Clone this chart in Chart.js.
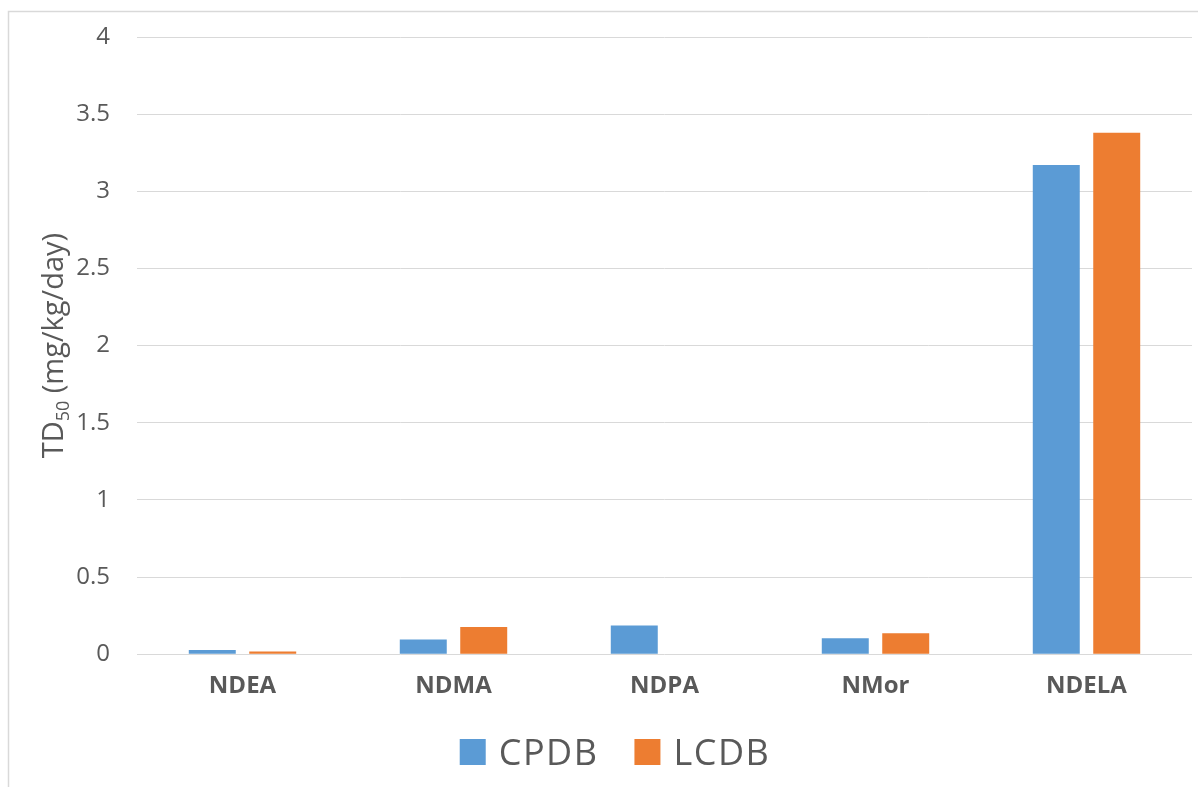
<!DOCTYPE html>
<html>
<head>
<meta charset="utf-8">
<style>
  html, body { margin: 0; padding: 0; background: #fff; }
  #wrap { position: relative; width: 1198px; height: 787px; }
</style>
<script src="https://cdn.jsdelivr.net/npm/chart.js@4.4.1/dist/chart.umd.min.js"></script>
</head>
<body>
<div id="wrap"><canvas id="c" width="1198" height="787"></canvas></div>
<script>
// Nitrosamine TD50 values (mg/kg/day) from two carcinogen databases
const categories = ['NDEA', 'NDMA', 'NDPA', 'NMor', 'NDELA'];
const cpdbValues = [0.0265, 0.0959, 0.186, 0.104, 3.17];
const lcdbValues = [0.0177, 0.177, null, 0.136, 3.38];
const seriesNames = ['CPDB', 'LCDB'];
const yTicks = [0, 0.5, 1, 1.5, 2, 2.5, 3, 3.5, 4];
const yTickLabels = ['0', '0.5', '1', '1.5', '2', '2.5', '3', '3.5', '4'];

const FONT = "'Open Sans', 'DejaVu Sans', sans-serif";
const TEXT = '#595959';

// Light frame around the chart area
const framePlugin = {
  id: 'frame',
  beforeDraw(chart) {
    const ctx = chart.ctx;
    ctx.save();
    ctx.strokeStyle = '#d9d9d9';
    ctx.lineWidth = 1.5;
    ctx.beginPath();
    ctx.moveTo(8.5, chart.height + 5);
    ctx.lineTo(8.5, 11.5);
    ctx.lineTo(chart.width + 5, 11.5);
    ctx.stroke();
    ctx.restore();
  }
};

// Rotated y-axis title with a subscript "50"
const yTitlePlugin = {
  id: 'yTitle',
  afterDraw(chart) {
    const ctx = chart.ctx;
    const area = chart.chartArea;
    const cy = (area.top + area.bottom) / 2;
    const main = '29px ' + FONT;
    const sub = '18px ' + FONT;
    ctx.save();
    ctx.fillStyle = TEXT;
    ctx.textBaseline = 'alphabetic';
    ctx.textAlign = 'left';
    ctx.font = main;
    const w1 = ctx.measureText('TD').width;
    const w3 = ctx.measureText(' (mg/kg/day)').width;
    ctx.font = sub;
    const w2 = ctx.measureText('50').width;
    const total = w1 + w2 + w3;
    ctx.translate(63, cy);
    ctx.rotate(-Math.PI / 2);
    let x = -total / 2;
    ctx.font = main;
    ctx.fillText('TD', x, 0);
    x += w1;
    ctx.font = sub;
    ctx.fillText('50', x, 6);
    x += w2;
    ctx.font = main;
    ctx.fillText(' (mg/kg/day)', x, 0);
    ctx.restore();
  }
};

// Legend row below the axis: square swatch + series name for each dataset
const legendPlugin = {
  id: 'bottomLegend',
  afterDraw(chart) {
    const ctx = chart.ctx;
    const box = 26, textGap = 13, itemGap = 36, baseline = 765, centerX = 615;
    ctx.save();
    ctx.font = '36px ' + FONT;
    if ('letterSpacing' in ctx) ctx.letterSpacing = '1.5px';
    ctx.textBaseline = 'alphabetic';
    ctx.textAlign = 'left';
    const items = chart.data.datasets.map(ds => ({
      label: ds.label,
      color: ds.backgroundColor,
      w: ctx.measureText(ds.label).width
    }));
    const total = items.reduce((s, it) => s + box + textGap + it.w, 0) + itemGap * (items.length - 1);
    let x = centerX - total / 2;
    items.forEach(it => {
      ctx.fillStyle = it.color;
      ctx.fillRect(x, baseline - box, box, box);
      x += box + textGap;
      ctx.fillStyle = TEXT;
      ctx.fillText(it.label, x, baseline);
      x += it.w + itemGap;
    });
    ctx.restore();
  }
};

new Chart(document.getElementById('c'), {
  type: 'bar',
  data: {
    labels: categories,
    datasets: [
      { label: seriesNames[0], data: cpdbValues, backgroundColor: '#5b9bd5' },
      { label: seriesNames[1], data: lcdbValues, backgroundColor: '#ed7d31' }
    ]
  },
  options: {
    responsive: false,
    animation: false,
    devicePixelRatio: 1,
    layout: { padding: { left: 0, right: 6, top: 37, bottom: 76 } },
    datasets: {
      bar: { categoryPercentage: 0.573, barPercentage: 0.777 }
    },
    scales: {
      x: {
        grid: { display: false },
        border: { display: false },
        ticks: {
          color: TEXT,
          padding: 10,
          font: { family: FONT, size: 24, weight: 'bold' }
        }
      },
      y: {
        min: 0,
        max: 4,
        afterBuildTicks(scale) {
          scale.ticks = yTicks.map(v => ({ value: v }));
        },
        afterFit(scale) {
          scale.width = 137;
          scale.paddingTop = 0;
          scale.paddingBottom = 0;
        },
        grid: { color: '#d9d9d9', lineWidth: 1, drawTicks: false },
        border: { display: false },
        ticks: {
          color: TEXT,
          padding: 27,
          font: { family: FONT, size: 24 },
          callback(value, index) { return yTickLabels[index]; }
        }
      }
    },
    plugins: {
      legend: { display: false },
      tooltip: { enabled: false }
    }
  },
  plugins: [framePlugin, yTitlePlugin, legendPlugin]
});
</script>
</body>
</html>
